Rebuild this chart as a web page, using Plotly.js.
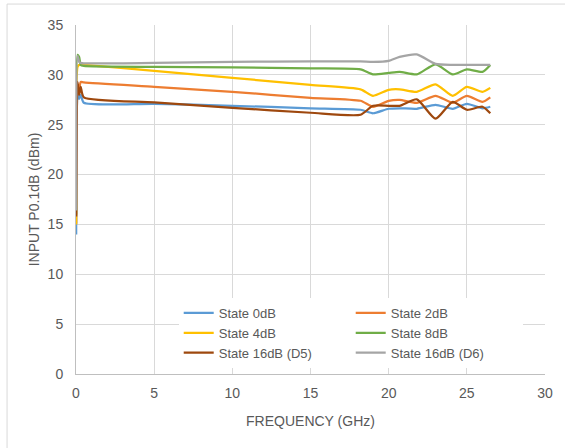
<!DOCTYPE html>
<html>
<head>
<meta charset="utf-8">
<script src="https://cdn.plot.ly/plotly-3.0.1.min.js"></script>
<style>html,body{margin:0;padding:0;background:#fff;}#chart{width:565px;height:448px;}</style>
</head>
<body>
<div id="chart"></div>
<script>
const freq = [0.01, 0.1, 0.2, 0.3, 0.5, 5, 10, 15, 18.2, 19.0, 20.0, 20.7, 21.8, 23.0, 24.1, 25.0, 26.0, 26.5];
const state0 = [14.0, 28.3, 27.6, 28.0, 27.2, 27.1, 26.9, 26.65, 26.5, 26.15, 26.6, 26.65, 26.6, 27.0, 26.6, 27.1, 26.65, 26.8];
const state2 = [15.1, 29.0, 28.4, 29.3, 29.25, 28.8, 28.3, 27.7, 27.4, 26.8, 27.4, 27.5, 27.2, 27.9, 27.2, 27.9, 27.3, 27.75];
const state4 = [15.0, 30.8, 31.0, 31.0, 31.0, 30.4, 29.7, 29.0, 28.55, 27.9, 28.5, 28.55, 28.3, 29.05, 27.9, 28.8, 28.3, 28.7];
const state8 = [16.0, 32.0, 31.8, 31.0, 30.9, 30.8, 30.75, 30.65, 30.55, 30.05, 30.2, 30.3, 30.05, 31.06, 30.05, 30.55, 30.3, 31.0];
const state16D5 = [15.8, 29.3, 28.0, 28.8, 27.75, 27.25, 26.7, 26.2, 26.0, 26.9, 26.9, 26.9, 27.55, 25.6, 27.3, 26.5, 26.8, 26.15];
const state16D6 = [16.4, 31.9, 31.3, 31.2, 31.15, 31.2, 31.3, 31.35, 31.35, 31.3, 31.4, 31.8, 32.05, 31.1, 31.0, 31.0, 31.0, 31.0];
const names = ["State 0dB", "State 2dB", "State 4dB", "State 8dB", "State 16dB (D5)", "State 16dB (D6)"];
const colors = ["#5b9bd5", "#ed7d31", "#ffc000", "#70ad47", "#9e480e", "#a5a5a5"];
const series = [state0, state2, state4, state8, state16D5, state16D6];

const traces = series.map((s, i) => ({
  x: freq, y: s, name: names[i], type: "scatter", mode: "lines",
  line: {color: colors[i], width: 2.25, shape: "spline", smoothing: 0.6}
}));

const fam = "Liberation Sans, Arial, sans-serif";
const tickFont = {family: fam, size: 14, color: "#595959"};
const titleFont = {family: fam, size: 14, color: "#595959"};
const layout = {
  width: 565, height: 448,
  margin: {l: 76, r: 20, t: 25, b: 74},
  paper_bgcolor: "#ffffff", plot_bgcolor: "#ffffff",
  font: tickFont,
  showlegend: true,
  legend: {
    orientation: "h", x: 0.219, y: 0.218, xanchor: "left", yanchor: "top",
    bgcolor: "#ffffff", entrywidth: 127, entrywidthmode: "pixels",
    font: {family: fam, size: 13, color: "#595959"},
    tracegroupgap: 0, itemwidth: 30
  },
  xaxis: {
    range: [0, 30], dtick: 5, tick0: 0,
    showgrid: true, gridcolor: "#d9d9d9", gridwidth: 1,
    zeroline: false, showline: true, linecolor: "#bfbfbf", linewidth: 1,
    ticks: "", tickfont: tickFont, ticklabelstandoff: 6,
    title: {text: "FREQUENCY (GHz)", font: titleFont, standoff: 16}
  },
  yaxis: {
    range: [0, 35], dtick: 5, tick0: 0,
    showgrid: true, gridcolor: "#d9d9d9", gridwidth: 1,
    zeroline: false, showline: true, linecolor: "#bfbfbf", linewidth: 1,
    ticks: "", tickfont: tickFont, ticklabelstandoff: 9,
    title: {text: "INPUT P0.1dB (dBm)", font: titleFont, standoff: 4}
  },
  shapes: [{
    type: "rect", xref: "paper", yref: "paper",
    x0: -0.147, x1: 1.06, y0: -0.22, y1: 1.06,
    line: {color: "#d9d9d9", width: 1}, fillcolor: "rgba(0,0,0,0)", layer: "below"
  }]
};
Plotly.newPlot("chart", traces, layout, {displayModeBar: false, staticPlot: true});
</script>
</body>
</html>
